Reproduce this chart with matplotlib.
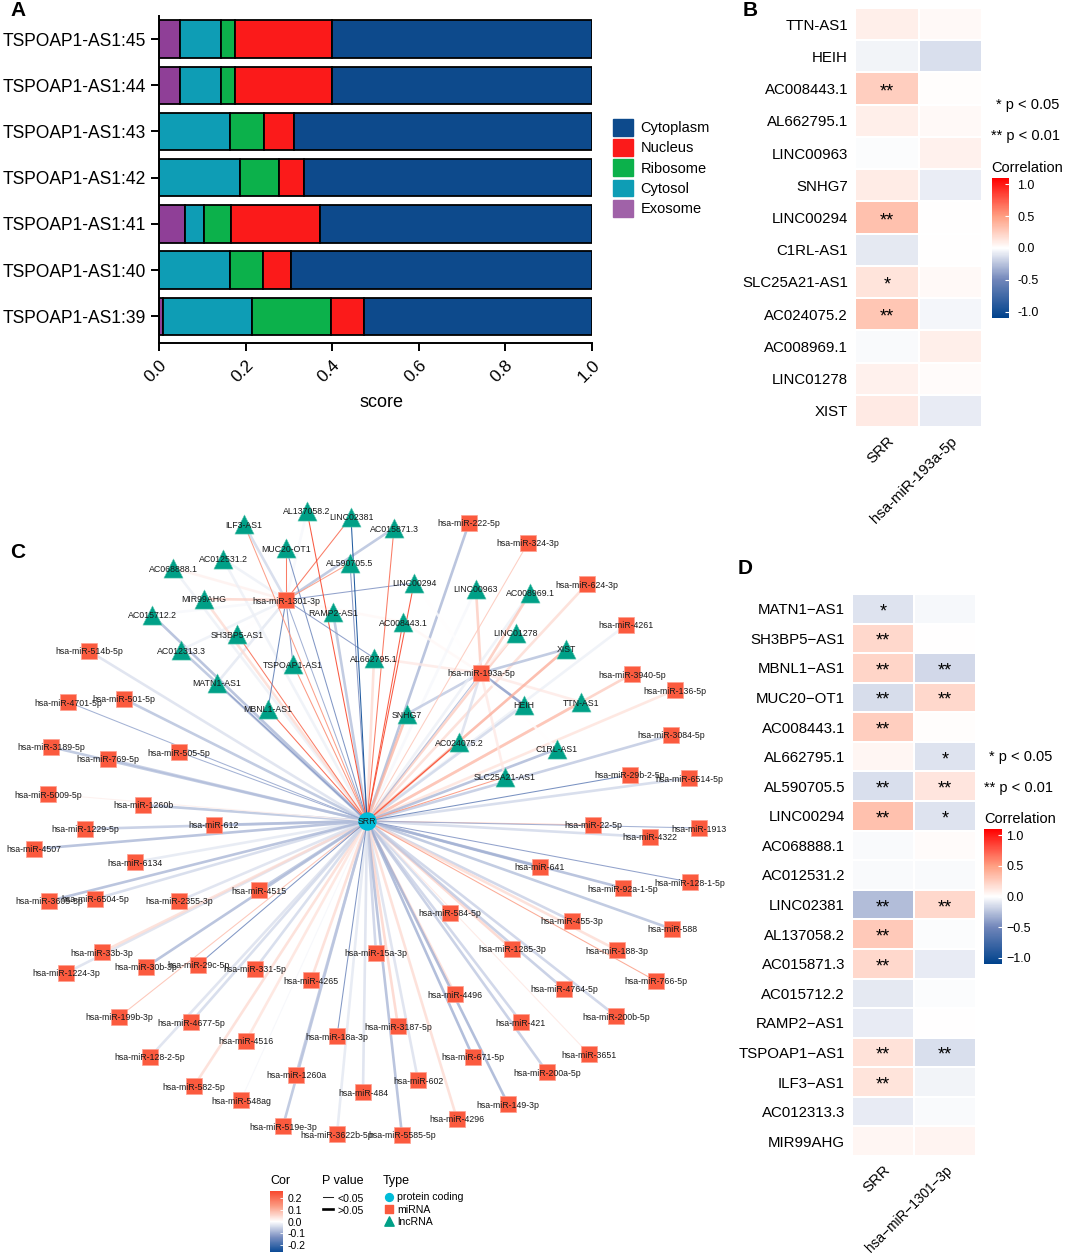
import numpy as np
import matplotlib
matplotlib.use('Agg')
import matplotlib.pyplot as plt
from matplotlib.colors import LinearSegmentedColormap, Normalize
from matplotlib.cm import ScalarMappable
from matplotlib.lines import Line2D
from matplotlib.patches import Patch

plt.rcParams['font.family'] = ['Liberation Sans', 'DejaVu Sans']

W, H = 1065, 1254

# panel A
transcripts = ['TSPOAP1-AS1:39', 'TSPOAP1-AS1:40', 'TSPOAP1-AS1:41', 'TSPOAP1-AS1:42',
               'TSPOAP1-AS1:43', 'TSPOAP1-AS1:44', 'TSPOAP1-AS1:45']
exosome = [0.009, 0, 0.060, 0, 0, 0.048, 0.048]
cytosol = [0.206, 0.164, 0.044, 0.187, 0.165, 0.095, 0.095]
ribosome = [0.182, 0.076, 0.062, 0.090, 0.078, 0.032, 0.032]
nucleus = [0.076, 0.065, 0.206, 0.058, 0.069, 0.225, 0.225]
cytoplasm = [0.527, 0.695, 0.628, 0.665, 0.688, 0.600, 0.600]

# panel B
b_names = ['TTN-AS1', 'HEIH', 'AC008443.1', 'AL662795.1', 'LINC00963', 'SNHG7', 'LINC00294',
           'C1RL-AS1', 'SLC25A21-AS1', 'AC024075.2', 'AC008969.1', 'LINC01278', 'XIST']
b_srr = [0.08, -0.05, 0.25, 0.08, -0.01, 0.10, 0.32, -0.09, 0.14, 0.30, -0.02, 0.07, 0.11]
b_mir = [0.03, -0.13, 0.01, 0.03, 0.07, -0.07, 0.0, 0.0, 0.03, -0.04, 0.08, 0.02, -0.08]
b_srr_stars = ['', '', '**', '', '', '', '**', '', '*', '**', '', '', '']
b_mir_stars = [''] * 13

# panel D
d_names = ['MATN1-AS1', 'SH3BP5-AS1', 'MBNL1-AS1', 'MUC20-OT1', 'AC008443.1', 'AL662795.1',
           'AL590705.5', 'LINC00294', 'AC068888.1', 'AC012531.2', 'LINC02381', 'AL137058.2',
           'AC015871.3', 'AC015712.2', 'RAMP2-AS1', 'TSPOAP1-AS1', 'ILF3-AS1', 'AC012313.3',
           'MIR99AHG']
d_srr = [-0.12, 0.20, 0.22, -0.14, 0.25, 0.05, -0.13, 0.32, -0.02, -0.02, -0.27, 0.28, 0.20,
         -0.09, -0.08, 0.15, 0.14, -0.08, 0.05]
d_mir = [-0.03, 0.0, -0.16, 0.20, 0.01, -0.12, 0.13, -0.12, 0.02, -0.02, 0.20, -0.01, -0.08,
         -0.01, 0.0, -0.13, -0.05, -0.02, 0.06]
d_srr_stars = ['*', '**', '**', '**', '**', '', '**', '**', '', '', '**', '**', '**', '', '',
               '**', '**', '', '']
d_mir_stars = ['', '', '**', '**', '', '*', '**', '*', '', '', '**', '', '', '', '', '**', '',
               '', '']

# panel C, node positions (pixels)
srr_pos = (367, 821)
hub_names = ['hsa-miR-1301-3p', 'hsa-miR-193a-5p']
hub_x = [286, 481]
hub_y = [600, 673]
hub_cor = [-0.10, -0.08]

lnc_d_x = [217, 237, 268, 286, 403, 374, 350, 414, 173, 223, 351, 307, 394, 152, 333, 293, 244,
           181, 204]
lnc_d_y = [683, 634, 709, 548, 622, 658, 563, 583, 568, 559, 517, 511, 528, 615, 612, 664, 524,
           650, 599]
lnc_b_x = [581, 524, 403, 374, 476, 407, 414, 557, 505, 459, 530, 516, 566]
lnc_b_y = [702, 705, 622, 658, 589, 714, 583, 749, 777, 742, 593, 633, 649]

mir_names = ['222-5p', '324-3p', '624-3p', '4261', '3940-5p', '136-5p', '3084-5p', '29b-2-5p',
             '6514-5p', '22-5p', '1913', '4322', '641', '92a-1-5p', '128-1-5p', '588', '455-3p',
             '188-3p', '766-5p', '584-5p', '1285-3p', '4764-5p', '200b-5p', '4496', '421',
             '200a-5p', '3651', '671-5p', '149-3p', '4296', '602', '3187-5p', '5585-5p', '15a-3p',
             '484', '18a-3p', '3622b-5p', '519e-3p', '1260a', '548ag', '582-5p', '4516', '4265',
             '128-2-5p', '4677-5p', '199b-3p', '331-5p', '29c-5p', '30b-3p', '1224-3p', '33b-3p',
             '4515', '2355-3p', '6134', '6504-5p', '3605-5p', '4507', '1229-5p', '612', '1260b',
             '5009-5p', '769-5p', '505-5p', '3189-5p', '501-5p', '4701-5p', '514b-5p']
mir_x = [469, 528, 587, 626, 632, 675, 671, 630, 689, 593, 699, 650, 540, 623, 690, 672, 572,
         617, 656, 450, 512, 564, 616, 455, 521, 547, 589, 473, 508, 457, 418, 398, 402, 376,
         363, 337, 337, 283, 296, 241, 194, 246, 311, 150, 191, 119, 255, 198, 146, 66, 102,
         259, 179, 135, 95, 49, 34, 85, 214, 143, 48, 108, 179, 51, 124, 68, 89]
mir_y = [523, 543, 584, 625, 674, 690, 735, 775, 778, 825, 828, 837, 867, 888, 882, 929, 921,
         950, 981, 913, 949, 989, 1016, 994, 1022, 1072, 1054, 1057, 1104, 1119, 1080, 1026, 1135,
         953, 1092, 1036, 1134, 1126, 1075, 1100, 1086, 1041, 980, 1057, 1022, 1017, 969, 965,
         967, 973, 952, 890, 901, 862, 899, 901, 849, 829, 825, 805, 794, 759, 752, 747, 699,
         702, 651]
mir_cor = [-0.09, 0.07, 0.05, -0.02, 0.07, 0.04, -0.07, -0.15, -0.05, 0.08, -0.10, -0.05, -0.10,
           -0.09, -0.12, -0.08, -0.06, 0.05, 0.12, -0.05, 0.06, -0.07, -0.06, 0.05, -0.06, -0.07,
           0.03, -0.10, -0.10, 0.05, -0.04, 0.06, -0.09, -0.06, -0.04, -0.14, -0.03, -0.08, -0.07,
           -0.01, 0.05, 0.04, 0.05, -0.04, -0.05, 0.08, -0.05, -0.14, -0.09, -0.04, 0.05, -0.08,
           -0.04, -0.03, -0.05, -0.09, -0.09, -0.07, -0.08, -0.08, 0.02, -0.07, -0.10, -0.08,
           -0.08, -0.10, -0.04]
mir_thin = ['324-3p', '29b-2-5p', '22-5p', '1913', '128-1-5p', '766-5p', '3651', '18a-3p', '548ag',
            '199b-3p', '29c-5p', '5009-5p', '505-5p', '4701-5p']

heat_cmap = LinearSegmentedColormap.from_list(
    'heat', [(0, '#00428c'), (0.273, '#7186ba'), (0.5, '#ffffff'), (0.727, '#ff9f82'), (1, '#ff0000')])
net_cmap = LinearSegmentedColormap.from_list(
    'net', [(0, '#0a4a96'), (0.25, '#7d91c2'), (0.5, '#ffffff'), (0.75, '#fb9c84'), (1, '#f8472d')])
net_norm = Normalize(-0.26, 0.26)


def box(x0, y0, x1, y1):
    # pixel box of the picture to figure fractions
    return [x0 / W, 1 - y1 / H, (x1 - x0) / W, (y1 - y0) / H]


fig = plt.figure(figsize=(W / 100, H / 100), dpi=100, facecolor='w')

# full size axes in pixel units for the network and the loose text
bg = fig.add_axes([0, 0, 1, 1])
bg.set_xlim(0, W)
bg.set_ylim(H, 0)
bg.axis('off')

for label, lx, ly in [('A', 18, 10), ('B', 750, 10), ('C', 18, 553), ('D', 745, 568)]:
    bg.text(lx, ly, label, fontsize=15, fontweight='bold', ha='center', va='center')

# A: stacked bars
ax = fig.add_axes(box(159, 16, 592, 343))
stack = [('Exosome', exosome, '#8f3f97'), ('Cytosol', cytosol, '#0e9db5'),
         ('Ribosome', ribosome, '#0cb14b'), ('Nucleus', nucleus, '#fb1a1a'),
         ('Cytoplasm', cytoplasm, '#0d4a8c')]
left = np.zeros(len(transcripts))
for name, vals, col in stack:
    ax.barh(transcripts, vals, left=left, height=0.81, color=col, edgecolor='black', lw=1.3)
    left += np.array(vals)
ax.set_xlim(0, 1)
ax.set_ylim(-0.58, 6.5)
ax.set_xticks([0, 0.2, 0.4, 0.6, 0.8, 1.0])
ax.set_xticklabels(['0.0', '0.2', '0.4', '0.6', '0.8', '1.0'], rotation=45, ha='right',
                   rotation_mode='anchor', fontsize=12.5)
ax.tick_params(axis='y', labelsize=12.65, length=5.5, width=1.4, pad=4)
ax.tick_params(axis='x', length=5.5, width=1.4, pad=5)
ax.set_xlabel('score', fontsize=13, labelpad=6, x=0.515)
for s in ['top', 'right']:
    ax.spines[s].set_visible(False)
for s in ['left', 'bottom']:
    ax.spines[s].set_linewidth(1.4)
handles = [Patch(color=c, label=n) for n, v, c in stack[::-1]]
handles[-1].set_color('#a062a8')
fig.legend(handles=handles, loc='upper left', bbox_to_anchor=(613 / W, 1 - 119 / H), frameon=False,
           fontsize=10.5, handlelength=1.37, handleheight=1.4, handletextpad=0.5, labelspacing=0.23,
           borderaxespad=0, borderpad=0)


# B and D: heatmaps
def heatmap(rect, names, c1, c2, s1, s2, xlabels, cbar, cbar_labels, cbar_pad, xfont):
    ax = fig.add_axes(box(*rect))
    vals = np.array([c1, c2]).T
    ax.pcolormesh(vals, cmap=heat_cmap, vmin=-1.1, vmax=1.1, edgecolors='white', linewidth=1.4)
    ax.set_ylim(len(names), 0)
    ax.set_yticks(np.arange(len(names)) + 0.5)
    ax.set_yticklabels(names, fontsize=10.8)
    ax.set_xticks([0.5, 1.5])
    ax.set_xticklabels(xlabels, rotation=45, ha='right', rotation_mode='anchor', fontsize=10.8)
    ax.get_xticklabels()[1].set_fontsize(xfont)
    ax.tick_params(length=0, pad=5)
    for s in ax.spines.values():
        s.set_visible(False)
    for i, (a, b) in enumerate(zip(s1, s2)):
        ax.text(0.5, i + 0.6, a, ha='center', va='center', fontsize=13)
        ax.text(1.5, i + 0.6, b, ha='center', va='center', fontsize=13)
    cax = fig.add_axes(box(*cbar))
    cb = fig.colorbar(ScalarMappable(Normalize(-1.1, 1.1), heat_cmap), cax=cax, ticks=[-1, -0.5, 0, 0.5, 1])
    cb.outline.set_visible(False)
    cb.ax.tick_params(direction='in', length=3, color='white', width=0.8, labelsize=9, pad=cbar_pad)
    cb.ax.set_yticklabels(cbar_labels)


heatmap((855, 8, 982, 427), b_names, b_srr, b_mir, b_srr_stars, b_mir_stars,
        ['SRR', 'hsa-miR-193a-5p'], (992, 178, 1009, 318), ['-1.0', '-0.5', '0.0', '0.5', '1.0'], 6, 10.8)
heatmap((852, 594, 976, 1156), [n.replace('-', '\u2212') for n in d_names], d_srr, d_mir,
        d_srr_stars, d_mir_stars, ['SRR', 'hsa\u2212miR\u22121301\u22123p'], (984, 829, 1002, 964),
        ['\u22121.0', '\u22120.5', '0.0', '0.5', '1.0'], 3, 9.8)

for tx, ty, t in [(996, 105, '* p < 0.05'), (991, 136, '** p < 0.01'), (989, 757, '* p < 0.05'),
                  (984, 788, '** p < 0.01')]:
    bg.text(tx, ty, t, fontsize=10.5, va='center')
bg.text(991, 168, 'Correlation', fontsize=10.5, va='center')
bg.text(984, 819, 'Correlation', fontsize=10.5, va='center')

# C: network, edges first
edges = []
for name, x, y, cor in zip(mir_names, mir_x, mir_y, mir_cor):
    edges.append((x, y, srr_pos[0], srr_pos[1], cor, name in mir_thin))
for x, y, cor in zip(hub_x, hub_y, hub_cor):
    edges.append((x, y, srr_pos[0], srr_pos[1], cor, True))
seen = set()
for names, xs, ys, c1, c2, s1, s2, hub in [
        (d_names, lnc_d_x, lnc_d_y, d_srr, d_mir, d_srr_stars, d_mir_stars, 0),
        (b_names, lnc_b_x, lnc_b_y, b_srr, b_mir, b_srr_stars, b_mir_stars, 1)]:
    for i, name in enumerate(names):
        if name not in seen:
            edges.append((xs[i], ys[i], srr_pos[0], srr_pos[1], c1[i], s1[i] != ''))
        seen.add(name)
        edges.append((xs[i], ys[i], hub_x[hub], hub_y[hub], c2[i], s2[i] != ''))
for thin in [False, True]:
    for x0, y0, x1, y1, cor, is_thin in edges:
        if is_thin == thin:
            bg.plot([x0, x1], [y0, y1], color=net_cmap(net_norm(cor)), lw=0.75 if thin else 1.9,
                    alpha=0.9 if thin else 0.75, solid_capstyle='butt', zorder=2)

bg.scatter(mir_x + hub_x, mir_y + hub_y, marker='s', s=135, color='#fb5a3e', edgecolor='#ffa090',
           linewidth=0.5, zorder=3)
tri_x = lnc_d_x + [x for n, x in zip(b_names, lnc_b_x) if n not in d_names]
tri_y = lnc_d_y + [y for n, y in zip(b_names, lnc_b_y) if n not in d_names]
tri_names = d_names + [n for n in b_names if n not in d_names]
bg.scatter(tri_x, tri_y, marker='^', s=190, color='#00a087', edgecolor='#60c8b4', linewidth=0.4, zorder=3)
bg.scatter(*srr_pos, marker='o', s=150, color='#00bcd8', zorder=3)
for name, x, y in zip(['hsa-miR-' + n for n in mir_names] + hub_names + tri_names + ['SRR'],
                      mir_x + hub_x + tri_x + [srr_pos[0]], mir_y + hub_y + tri_y + [srr_pos[1]]):
    bg.text(x, y + 1, name, fontsize=6.3, ha='center', va='center', color='#1a1a1a', zorder=4)

# network legend
bg.text(270, 1181, 'Cor', fontsize=9, va='center')
bg.text(322, 1181, 'P value', fontsize=9, va='center')
bg.text(383, 1181, 'Type', fontsize=9, va='center')
cax = fig.add_axes(box(270, 1191, 283, 1252))
cb = fig.colorbar(ScalarMappable(net_norm, net_cmap), cax=cax, ticks=[-0.2, -0.1, 0, 0.1, 0.2])
cb.outline.set_visible(False)
cb.ax.tick_params(direction='in', length=2, color='white', width=0.6, labelsize=7.6, pad=3)
cb.ax.set_yticklabels(['-0.2', '-0.1', '0.0', '0.1', '0.2'])
bg.add_line(Line2D([323, 333], [1197, 1197], color='#222222', lw=0.75))
bg.add_line(Line2D([323, 333], [1209, 1209], color='black', lw=1.9))
bg.text(338, 1199, '<0.05', fontsize=7.6, va='center')
bg.text(338, 1211, '>0.05', fontsize=7.6, va='center')
bg.scatter([389], [1197], marker='o', s=32, color='#00bcd8')
bg.scatter([389], [1209], marker='s', s=32, color='#fb5a3e')
bg.scatter([389], [1221], marker='^', s=45, color='#00a087')
for ty, t in [(1197, 'protein coding'), (1210, 'miRNA'), (1222, 'lncRNA')]:
    bg.text(397, ty, t, fontsize=7.6, va='center')

fig.savefig('out.png', dpi=100)
